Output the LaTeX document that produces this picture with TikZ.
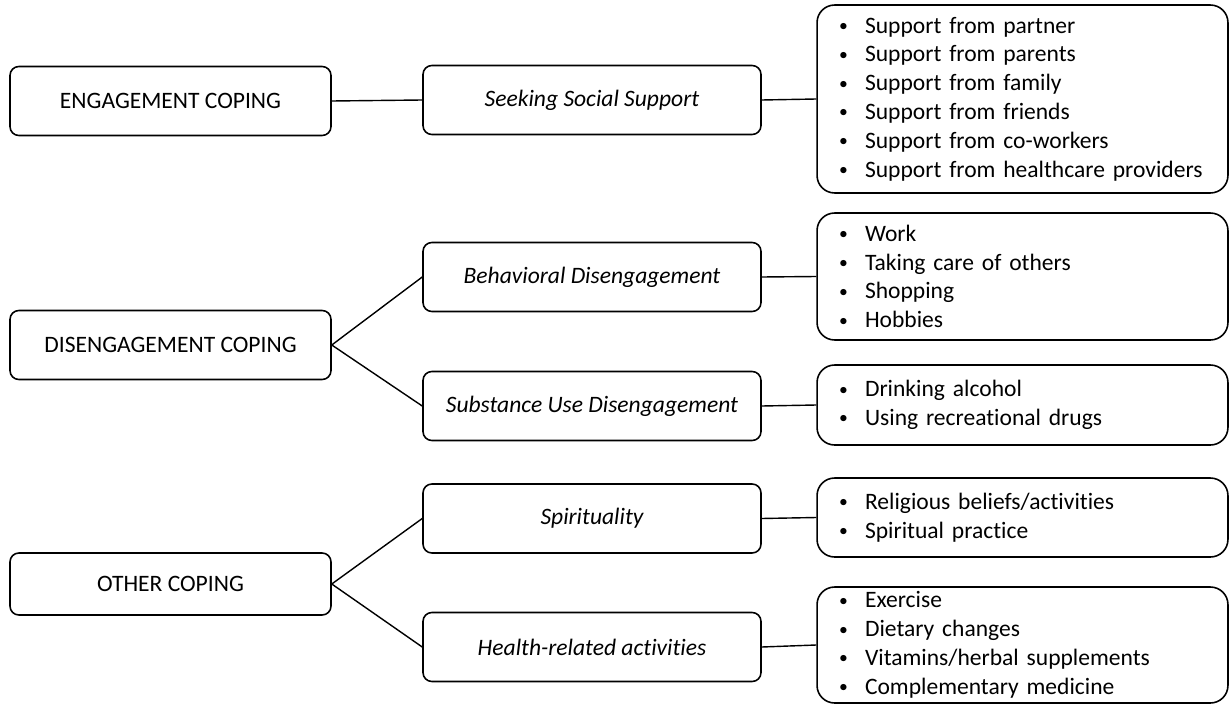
\documentclass[tikz,border=0pt]{standalone}
\usepackage{fontspec}
\setmainfont[Ligatures=NoCommon]{Carlito}
\newcommand{\bl}{\makebox[0.52cm][l]{\raisebox{0.15ex}{\scalebox{0.75}{\textbullet}}}}
\tikzset{
  catbox/.style={draw, rounded corners=5pt, line width=0.9pt, minimum width=6.42cm, minimum height=1.38cm, font=\fontsize{13.4}{16.4}\selectfont},
  subbox/.style={draw, rounded corners=5pt, line width=0.9pt, minimum width=6.76cm, minimum height=1.38cm, font=\fontsize{13.4}{16.4}\selectfont\itshape},
  listbox/.style={draw, rounded corners=10pt, line width=0.9pt, inner xsep=0.44cm, inner ysep=2pt, text width=7.34cm, align=left, font=\fontsize{13.4}{16.4}\selectfont},
  link/.style={line width=0.8pt}
}
\begin{document}
\begin{tikzpicture}[x=0.02cm, y=-0.02cm]
    \useasboundingbox (0,0) rectangle (1230,706);

    % Coping categories
    \node[catbox] (eng) at (170.5,101) {ENGAGEMENT COPING};
    \node[catbox] (dis) at (170.5,345) {DISENGAGEMENT COPING};
    \node[catbox, minimum height=1.24cm] (oth) at (170.5,584) {OTHER COPING};

    % Strategies
    \node[subbox] (sss) at (592,100) {Seeking Social Support};
    \node[subbox] (beh) at (592,277) {Behavioral Disengagement};
    \node[subbox] (sub) at (592,406) {Substance Use Disengagement};
    \node[subbox] (spi) at (592,518.5) {Spirituality};
    \node[subbox] (hea) at (592,647) {Health-related activities};

    % Examples
    \node[listbox, minimum height=3.76cm] (lsss) at (1022.5,99) {
      \bl Support from partner\\
      \bl Support from parents\\
      \bl Support from family\\
      \bl Support from friends\\
      \bl Support from co-workers\\
      \bl Support from healthcare providers};
    \node[listbox, minimum height=2.54cm] (lbeh) at (1022.5,276.5) {
      \bl Work\\
      \bl Taking care of others\\
      \bl Shopping\\
      \bl Hobbies};
    \node[listbox, minimum height=1.6cm] (lsub) at (1022.5,405) {
      \bl Drinking alcohol\\
      \bl Using recreational drugs};
    \node[listbox, minimum height=1.58cm] (lspi) at (1022.5,517.5) {
      \bl Religious beliefs/activities\\
      \bl Spiritual practice};
    \node[listbox, minimum height=2.32cm] (lhea) at (1022.5,645) {
      \bl Exercise\\
      \bl Dietary changes\\
      \bl Vitamins/herbal supplements\\
      \bl Complementary medicine};

    % Connectors
    \draw[link] (eng.east) -- (sss.west);
    \draw[link] (dis.east) -- (beh.west);
    \draw[link] (dis.east) -- (sub.west);
    \draw[link] (oth.east) -- (spi.west);
    \draw[link] (oth.east) -- (hea.west);
    \foreach \s in {sss,beh,sub,spi,hea} {
        \draw[link] (\s.east) -- (l\s.west);
      }
  \end{tikzpicture}
\end{document}
